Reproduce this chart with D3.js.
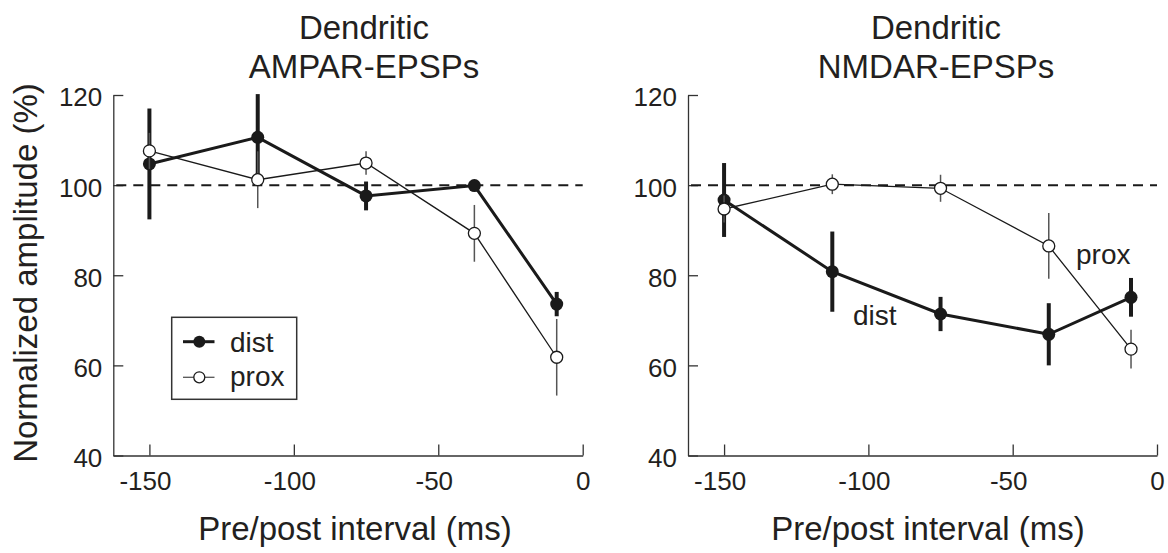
<!DOCTYPE html>
<html>
<head>
<meta charset="utf-8">
<script src="https://cdn.jsdelivr.net/npm/d3@7"></script>
<style>
  body { margin: 0; background: #fff; }
  text { font-family: "Liberation Sans", Arial, sans-serif; fill: #231f20; }
</style>
</head>
<body>
<script>
const w = 1168;
const h = 553;

// pre/post intervals (ms)
const intervals = [-150, -112.5, -75, -37.5, -9];
const xTicks = [-150, -100, -50, 0];
const yTicks = [40, 60, 80, 100, 120];

// AMPAR panel
const ampaDist = [104.7, 110.6, 97.6, 99.9, 73.6];
const ampaDistErr = [12.3, 9.6, 3.2, 1.0, 2.7];
const ampaProx = [107.6, 101.2, 104.9, 89.3, 61.8];
const ampaProxErr = [4.0, 6.3, 2.6, 6.3, 8.5];

// NMDAR panel
const nmdaDist = [96.7, 80.8, 71.4, 66.9, 75.1];
const nmdaDistErr = [8.2, 8.9, 3.8, 6.9, 4.3];
const nmdaProx = [94.7, 100.2, 99.3, 86.5, 63.6];
const nmdaProxErr = [3.0, 2.2, 3.0, 7.3, 4.3];

const ink = "#1a1a1a";

let svg = d3.select("body")
            .append("svg")
            .attr("width", w)
            .attr("height", h);

let y = d3.scaleLinear()
          .domain([40, 120])
          .range([455.5, 95]);

const panels = [
  { left: 113.3, right: 582.7, title: ["Dendritic", "AMPAR-EPSPs"], titleX: 364, labelX: 355,
    dist: ampaDist, distErr: ampaDistErr, prox: ampaProx, proxErr: ampaProxErr, legend: true },
  { left: 688, right: 1157, title: ["Dendritic", "NMDAR-EPSPs"], titleX: 936, labelX: 928,
    dist: nmdaDist, distErr: nmdaDistErr, prox: nmdaProx, proxErr: nmdaProxErr, legend: false }
];

function series(vals, errs) {
  return intervals.map((t, i) => ({ t: t, v: vals[i], e: errs[i] }));
}

panels.forEach(p => {
  let x = d3.scaleLinear()
            .domain([-162.5, 0])
            .range([p.left, p.right]);

  // titles
  svg.append("text")
     .attr("x", p.titleX).attr("y", 39)
     .attr("text-anchor", "middle")
     .style("font-size", "33px")
     .text(p.title[0]);
  svg.append("text")
     .attr("x", p.titleX).attr("y", 78)
     .attr("text-anchor", "middle")
     .style("font-size", "33px")
     .text(p.title[1]);

  // axes
  let xAxis = svg.append("g")
     .attr("transform", "translate(0," + y(40) + ")")
     .call(d3.axisBottom(x)
             .tickValues(xTicks)
             .tickSizeInner(-11)
             .tickSizeOuter(0)
             .tickPadding(16)
             .tickFormat(d => String(d)));
  xAxis.selectAll("text")
       .style("font-size", "26px")
       .attr("dx", d => d < 0 ? -4.5 : 0);

  let yAxis = svg.append("g")
     .attr("transform", "translate(" + p.left + ",0)")
     .call(d3.axisLeft(y)
             .tickValues(yTicks)
             .tickSizeInner(-10)
             .tickSizeOuter(0)
             .tickPadding(11)
             .tickFormat(d3.format("d")));
  yAxis.selectAll("text")
       .style("font-size", "26px")
       .attr("dy", "0.42em");

  svg.selectAll(".domain, .tick line")
     .attr("stroke", "#333")
     .attr("stroke-width", 1.3);
  svg.selectAll(".tick text").attr("fill", "#231f20");

  svg.append("text")
     .attr("x", p.labelX).attr("y", 540)
     .attr("text-anchor", "middle")
     .style("font-size", "33px")
     .text("Pre/post interval (ms)");

  // 100% reference
  svg.append("line")
     .attr("x1", p.left + 3).attr("x2", p.right)
     .attr("y1", y(100)).attr("y2", y(100))
     .attr("stroke", ink)
     .attr("stroke-width", 2)
     .attr("stroke-dasharray", "10,7");

  let line = d3.line()
               .x(d => x(d.t))
               .y(d => y(d.v));

  // dist: thick, filled
  let dist = series(p.dist, p.distErr);
  svg.append("g").selectAll("line")
     .data(dist).enter().append("line")
     .attr("x1", d => x(d.t)).attr("x2", d => x(d.t))
     .attr("y1", d => y(d.v - d.e)).attr("y2", d => y(d.v + d.e))
     .attr("stroke", ink).attr("stroke-width", 4);
  svg.append("path")
     .datum(dist)
     .attr("d", line)
     .attr("fill", "none")
     .attr("stroke", ink)
     .attr("stroke-width", 3);
  svg.append("g").selectAll("circle")
     .data(dist).enter().append("circle")
     .attr("cx", d => x(d.t)).attr("cy", d => y(d.v))
     .attr("r", 6.5)
     .attr("fill", ink);

  // prox: thin, open
  let prox = series(p.prox, p.proxErr);
  svg.append("g").selectAll("line")
     .data(prox).enter().append("line")
     .attr("x1", d => x(d.t)).attr("x2", d => x(d.t))
     .attr("y1", d => y(d.v - d.e)).attr("y2", d => y(d.v + d.e))
     .attr("stroke", "#555").attr("stroke-width", 1.5);
  svg.append("path")
     .datum(prox)
     .attr("d", line)
     .attr("fill", "none")
     .attr("stroke", ink)
     .attr("stroke-width", 1.3);
  svg.append("g").selectAll("circle")
     .data(prox).enter().append("circle")
     .attr("cx", d => x(d.t)).attr("cy", d => y(d.v))
     .attr("r", 6)
     .attr("fill", "#fff")
     .attr("stroke", ink)
     .attr("stroke-width", 1.3);

  if (p.legend) {
    let lg = svg.append("g");
    lg.append("rect")
      .attr("x", 171.7).attr("y", 317.3)
      .attr("width", 125).attr("height", 82)
      .attr("fill", "#fff")
      .attr("stroke", "#333")
      .attr("stroke-width", 1.5);
    lg.append("line")
      .attr("x1", 183).attr("x2", 214.5).attr("y1", 341.7).attr("y2", 341.7)
      .attr("stroke", ink).attr("stroke-width", 3);
    lg.append("circle")
      .attr("cx", 199.3).attr("cy", 341.7).attr("r", 6)
      .attr("fill", ink);
    lg.append("line")
      .attr("x1", 183).attr("x2", 214.5).attr("y1", 377.3).attr("y2", 377.3)
      .attr("stroke", "#555").attr("stroke-width", 1.3);
    lg.append("circle")
      .attr("cx", 199.3).attr("cy", 377.3).attr("r", 5.5)
      .attr("fill", "#fff").attr("stroke", ink).attr("stroke-width", 1.3);
    lg.append("text")
      .attr("x", 230).attr("y", 351.7)
      .style("font-size", "28px")
      .text("dist");
    lg.append("text")
      .attr("x", 230).attr("y", 385.5)
      .style("font-size", "28px")
      .text("prox");
  } else {
    svg.append("text")
       .attr("x", 853).attr("y", 325)
       .style("font-size", "28px")
       .text("dist");
    svg.append("text")
       .attr("x", 1076).attr("y", 263.5)
       .style("font-size", "28px")
       .text("prox");
  }
});

// shared y label
svg.append("text")
   .attr("transform", "translate(37,273) rotate(-90)")
   .attr("text-anchor", "middle")
   .style("font-size", "33px")
   .text("Normalized amplitude (%)");
</script>
</body>
</html>
